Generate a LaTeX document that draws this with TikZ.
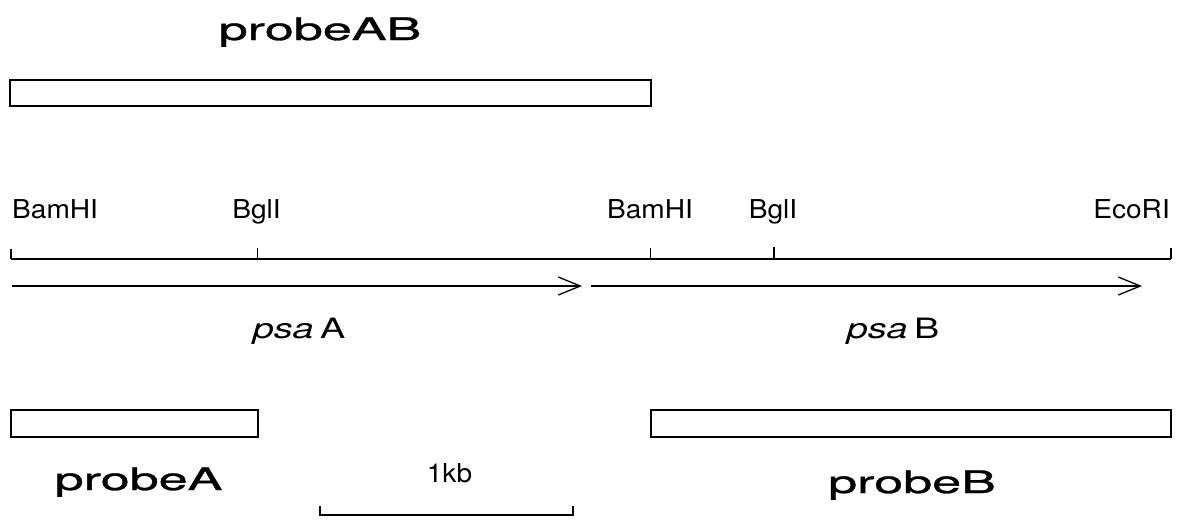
\documentclass[tikz,border=0pt]{standalone}
\usepackage{fontspec}
\setmainfont{TeX Gyre Heros}
\newfontfamily\probefont{TeX Gyre Heros}[FakeBold=0.9]
\usetikzlibrary{arrows.meta}
\newcommand{\sitetxt}[1]{\scalebox{1.08}[1]{#1}}
\newcommand{\probetxt}[1]{\scalebox{1.68}[1]{\probefont #1}}
\newcommand{\genetxt}[1]{\scalebox{1.35}[1]{#1}}
\tikzset{
  sitelbl/.style={font=\fontsize{26}{30}\selectfont, anchor=base, inner sep=0pt},
  probelbl/.style={font=\fontsize{31}{35}\selectfont, anchor=base, inner sep=0pt},
  genelbl/.style={font=\fontsize{28}{32}\selectfont, anchor=base, inner sep=0pt},
  probebox/.style={draw, line width=1.3pt, inner sep=0pt, outer sep=0pt, minimum height=26pt},
  mapline/.style={line width=1.4pt},
  tick/.style={line width=1.2pt},
  genearrow/.style={line width=1.1pt, -{Straight Barb[length=22pt,width=18pt,line width=1.3pt]}}
}
\begin{document}
\begin{tikzpicture}[x=1pt,y=-1pt]
\useasboundingbox (0,0) rectangle (1187,523);
% probe labels and boxes
\node[probelbl] (tAB) at (320,40) {\probetxt{probeAB}};
\node[probebox, minimum width=641pt] (pAB) at (330.5,93) {};
\node[probebox, minimum width=247pt, minimum height=27pt] (pA) at (134.5,423.5) {};
\node[probebox, minimum width=520pt, minimum height=27pt] (pB) at (911,423.5) {};
\node[probelbl] (tA) at (138.5,490) {\probetxt{probeA}};
\node[probelbl] (tB) at (912,493) {\probetxt{probeB}};
% restriction sites
\coordinate (s1) at (11,259);
\coordinate (s2) at (257.5,259);
\coordinate (s3) at (650.5,259);
\coordinate (s4) at (774,259);
\coordinate (s5) at (1171,259);
\coordinate (s1t) at (11,249);
\coordinate (s2t) at (257.5,248);
\coordinate (s3t) at (650.5,248);
\coordinate (s4t) at (774,247);
\coordinate (s5t) at (1171,248);
\node[sitelbl, anchor=base west] (l1) at (12,218) {\sitetxt{BamHI}};
\node[sitelbl] (l2) at (256.5,218) {\sitetxt{BglI}};
\node[sitelbl] (l3) at (650,218) {\sitetxt{BamHI}};
\node[sitelbl] (l4) at (773,218) {\sitetxt{BglI}};
\node[sitelbl, anchor=base east] (l5) at (1170,218) {\sitetxt{EcoRI}};
\draw[mapline] (s1) -- (s5);
\foreach \i in {1,...,5} \draw[tick] (s\i) -- (s\i t);
% genes
\coordinate (a1s) at (12,286);
\coordinate (a1e) at (582,286);
\coordinate (a2s) at (591,286);
\coordinate (a2e) at (1142,286);
\draw[genearrow] (a1s) -- (a1e);
\draw[genearrow] (a2s) -- (a2e);
\node[genelbl] (gA) at (299,338) {\genetxt{\textit{psa}\,A}};
\node[genelbl] (gB) at (893,338) {\genetxt{\textit{psa}\,B}};
% scale bar
\coordinate (k1) at (320,515);
\coordinate (k2) at (573,515);
\coordinate (k1t) at (320,506);
\coordinate (k2t) at (573,506);
\draw[tick] (k1t) -- (k1) -- (k2) -- (k2t);
\node[sitelbl] (kb) at (449.5,482) {\sitetxt{1kb}};
\end{tikzpicture}
\end{document}
